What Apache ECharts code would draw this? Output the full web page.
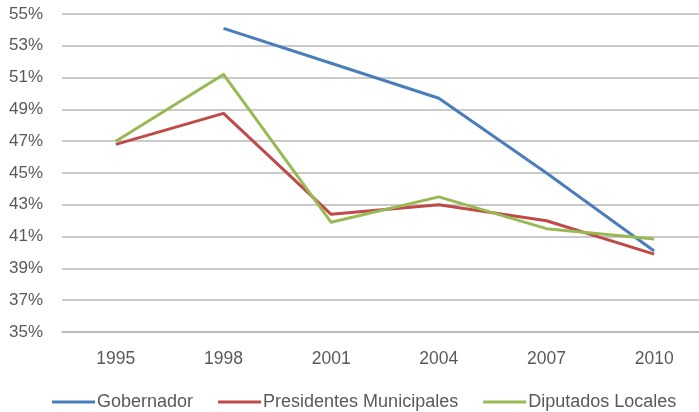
<!DOCTYPE html>
<html>
<head>
	<meta charset="utf-8">
	<title>Participación</title>
	<style>
		* { margin: 0px; padding: 0px; }
		html, body { background: #fff; }
		#chart { width: 699px; height: 412px; }
	</style>
</head>
<body>
	<div id="chart"></div>
	<script src="https://cdn.jsdelivr.net/npm/echarts@6/dist/echarts.min.js"></script>
	<script type="text/javascript">
		// datos (porcentaje)
		var years = ['1995', '1998', '2001', '2004', '2007', '2010'];
		var gobernador = [null, 54.1, 51.9, 49.7, 45.0, 40.1];
		var presidentes = [46.8, 48.75, 42.4, 43.0, 42.0, 39.9];
		var diputados = [47.0, 51.2, 41.9, 43.5, 41.5, 40.85];
		var names = ['Gobernador', 'Presidentes Municipales', 'Diputados Locales'];
		var colors = ['#4a7ebb', '#be4b48', '#98b954'];

		var myChart = echarts.init(document.getElementById('chart'));

		function mkSeries(name, data, color) {
			return {
				name: name,
				type: 'line',
				data: data,
				symbol: 'none',
				connectNulls: false,
				lineStyle: { color: color, width: 3, join: 'round' },
				itemStyle: { color: color }
			};
		}

		var font = 'Liberation Sans, Arial, sans-serif';

		var option = {
			animation: false,
			color: colors,
			// el área del gráfico sigue un poco más allá del borde derecho
			grid: { left: 62, width: 646, top: 14, height: 318, outerBoundsMode: 'none' },
			legend: {
				left: 47,
				top: 388,
				icon: 'rect',
				itemWidth: 43,
				itemHeight: 3,
				itemGap: 25,
				textStyle: { color: '#595959', fontSize: 18, fontFamily: font, padding: [0, 0, 0, -3] },
				data: names
			},
			xAxis: {
				type: 'category',
				data: years,
				boundaryGap: true,
				axisLine: { show: true, lineStyle: { color: '#b8b8b8', width: 1.5 } },
				axisTick: { show: false },
				axisLabel: { color: '#595959', fontSize: 17.5, fontFamily: font, margin: 18 }
			},
			yAxis: {
				type: 'value',
				min: 35,
				max: 55,
				interval: 2,
				axisLine: { show: false },
				axisTick: { show: false },
				axisLabel: { color: '#595959', fontSize: 17, fontFamily: font, margin: 19, formatter: '{value}%' },
				splitLine: { lineStyle: { color: '#b8b8b8', width: 1.5 } }
			},
			series: [
				mkSeries(names[0], gobernador, colors[0]),
				mkSeries(names[1], presidentes, colors[1]),
				mkSeries(names[2], diputados, colors[2])
			]
		};

		myChart.setOption(option);
	</script>
</body>
</html>
